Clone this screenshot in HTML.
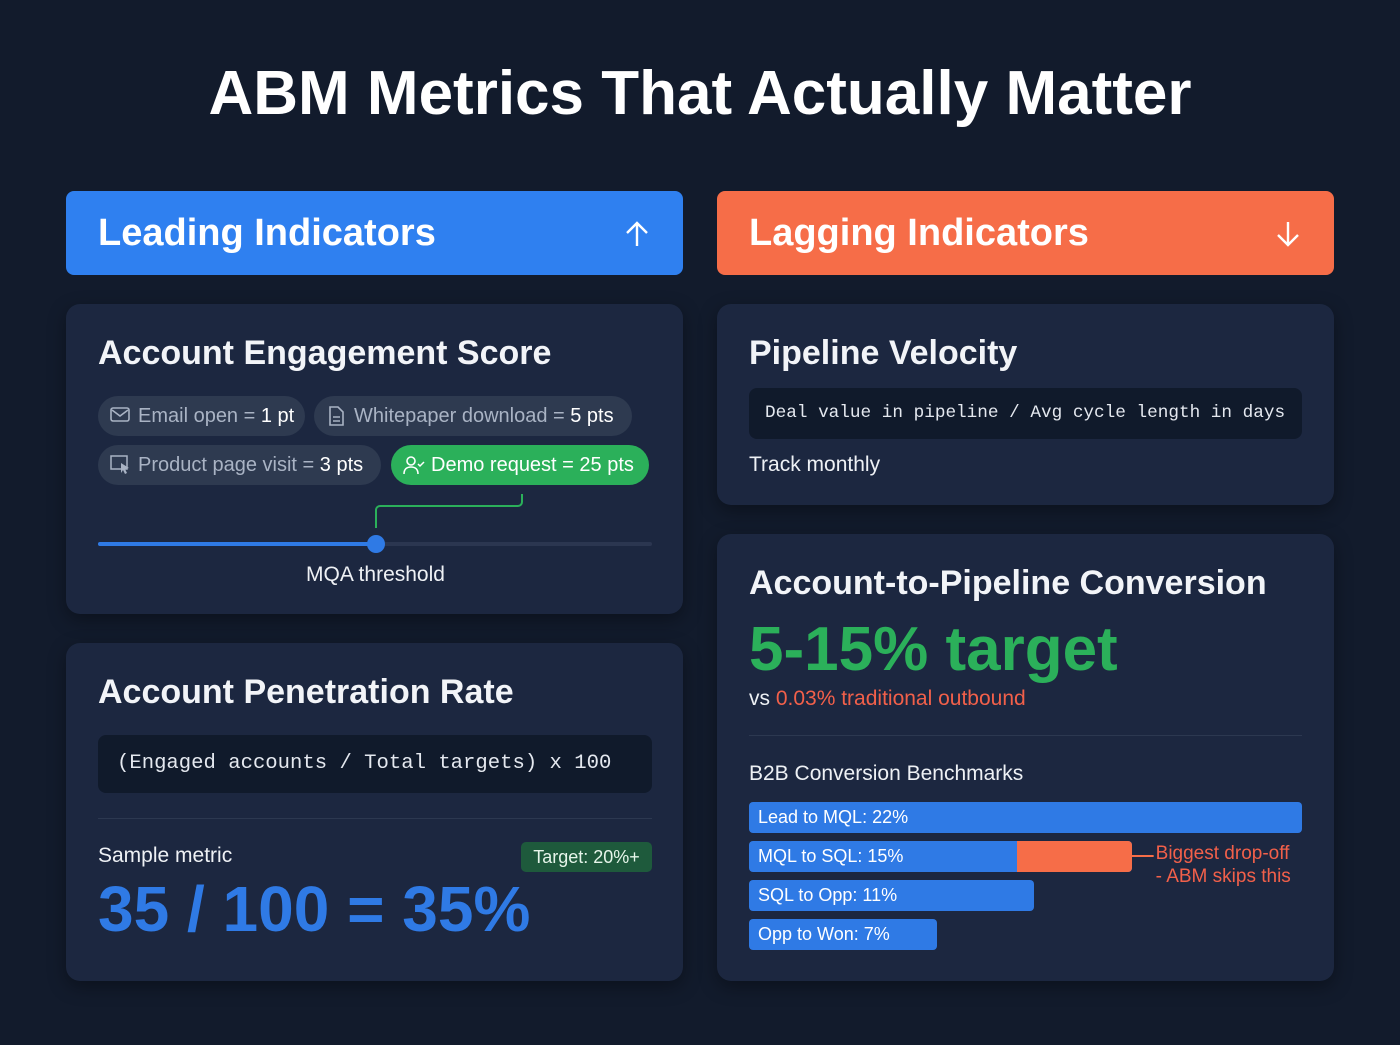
<!DOCTYPE html>
<html><head><meta charset="utf-8"><style>
*{box-sizing:border-box;margin:0;padding:0}
body{width:1400px;height:1045px;background:#121b2c;font-family:"Liberation Sans",sans-serif;color:#fff;position:relative;overflow:hidden}
.abs{position:absolute}
.hdr{position:absolute;top:191px;height:84px;width:617px;border-radius:8px;font-weight:bold;font-size:38px;padding-left:32px;line-height:84px}
.card{position:absolute;background:#1c2740;border-radius:14px;box-shadow:0 6px 18px rgba(0,0,0,.35)}
.ct{position:absolute;left:32px;font-weight:bold;font-size:34px;color:#f2f4f8}
.chip{position:absolute;height:40px;border-radius:20px;background:#2e3a50;color:#a9b3c4;font-size:20px;line-height:40px;padding-left:40px}
.chip b{color:#fff;font-weight:normal}
.chip svg{position:absolute;left:12px;top:10px}
.code{position:absolute;background:#101a2b;border-radius:8px;font-family:"Liberation Mono",monospace;color:#e4e8ef}
.bar{position:absolute;height:31px;border-radius:4px;background:#2f7ae5;font-size:18px;line-height:31px;padding-left:9px;color:#fff;white-space:nowrap}
</style></head><body>
<div class="abs" style="left:0;width:1400px;top:58px;text-align:center;font-size:62px;font-weight:bold;color:#fff">ABM Metrics That Actually Matter</div>

<div class="hdr" style="left:66px;background:#2f80f0">Leading Indicators<svg style="position:absolute;right:34px;top:30px" width="24" height="26"><path d="M12 25V2M2 12L12 2l10 10" fill="none" stroke="#fff" stroke-width="2.4"/></svg></div>
<div class="hdr" style="left:717px;background:#f66d48">Lagging Indicators<svg style="position:absolute;right:34px;top:30px" width="24" height="26"><path d="M12 1v23M2 14l10 10 10-10" fill="none" stroke="#fff" stroke-width="2.4"/></svg></div>

<div class="card" style="left:66px;top:304px;width:617px;height:310px">
 <div class="ct" style="top:30px">Account Engagement Score</div>
 <div class="chip" style="left:32px;top:92px;width:207px"><svg width="20" height="18"><rect x="1" y="2" width="18" height="13" rx="2" fill="none" stroke="#a9b3c4" stroke-width="1.6"/><path d="M2 4l8 6 8-6" fill="none" stroke="#a9b3c4" stroke-width="1.6"/></svg>Email open = <b>1 pt</b></div>
 <div class="chip" style="left:248px;top:92px;width:318px"><svg width="20" height="20"><path d="M4 1h8l5 5v13H4z" fill="none" stroke="#a9b3c4" stroke-width="1.6"/><path d="M7 11h7M7 15h7" stroke="#a9b3c4" stroke-width="1.5"/></svg>Whitepaper download = <b>5 pts</b></div>
 <div class="chip" style="left:32px;top:141px;width:283px"><svg width="22" height="20"><rect x="1" y="1" width="16" height="13" fill="none" stroke="#a9b3c4" stroke-width="1.5"/><path d="M11 8l8 5-4 1 2 4-2 1-2-4-2 3z" fill="#a9b3c4"/></svg>Product page visit = <b>3 pts</b></div>
 <div class="chip" style="left:325px;top:141px;width:258px;background:#2bb05a;color:#fff"><svg width="22" height="20"><circle cx="8" cy="6" r="4" fill="none" stroke="#fff" stroke-width="1.6"/><path d="M1 19c0-5 3-7 7-7s7 2 7 7" fill="none" stroke="#fff" stroke-width="1.6"/><path d="M15 9l2 2 4-4" fill="none" stroke="#fff" stroke-width="1.5"/></svg>Demo request = 25 pts</div>
 <svg class="abs" style="left:0;top:0" width="617" height="310">
  <path d="M456 190v8a4 4 0 0 1-4 4H314a4 4 0 0 0-4 4v18" fill="none" stroke="#2bb05a" stroke-width="2"/>
  <rect x="32" y="238" width="554" height="4" rx="2" fill="#2b3650"/>
  <rect x="32" y="238" width="278" height="4" rx="2" fill="#2f7ae5"/>
  <circle cx="310" cy="240" r="9" fill="#2f7ae5"/>
 </svg>
 <div class="abs" style="left:0;width:618px;text-align:center;top:259px;font-size:21px;color:#eef1f5;padding-left:1px">MQA threshold</div>
</div>

<div class="card" style="left:66px;top:643px;width:617px;height:338px">
 <div class="ct" style="top:30px">Account Penetration Rate</div>
 <div class="code" style="left:32px;top:92px;width:554px;height:58px;font-size:20.6px;line-height:58px;padding-left:19px">(Engaged accounts / Total targets) x 100</div>
 <div class="abs" style="left:32px;top:175px;width:554px;height:1px;background:#2c3850"></div>
 <div class="abs" style="left:32px;top:201px;font-size:21px;color:#eef1f5">Sample metric</div>
 <div class="abs" style="left:455px;top:199px;width:131px;height:30px;border-radius:5px;background:#1e5a3c;color:#e6f5ea;font-size:18px;line-height:30px;text-align:center">Target: 20%+</div>
 <div class="abs" style="left:32px;top:229px;font-size:64px;font-weight:bold;color:#2f7ae5">35 / 100 = 35%</div>
</div>

<div class="card" style="left:717px;top:304px;width:617px;height:201px">
 <div class="ct" style="top:30px">Pipeline Velocity</div>
 <div class="code" style="left:32px;top:84px;width:553px;height:51px;font-size:17.7px;line-height:51px;padding-left:16px">Deal value in pipeline / Avg cycle length in days</div>
 <div class="abs" style="left:32px;top:149px;font-size:21px;color:#eef1f5">Track monthly</div>
</div>

<div class="card" style="left:717px;top:534px;width:617px;height:447px">
 <div class="ct" style="top:30px">Account-to-Pipeline Conversion</div>
 <div class="abs" style="left:32px;top:80px;font-size:62px;font-weight:bold;color:#2bb05a">5-15% target</div>
 <div class="abs" style="left:32px;top:153px;font-size:21px;color:#eef1f5">vs <span style="color:#f2604a">0.03% traditional outbound</span></div>
 <div class="abs" style="left:32px;top:201px;width:553px;height:1px;background:#2c3850"></div>
 <div class="abs" style="left:32px;top:228px;font-size:21px;color:#eef1f5">B2B Conversion Benchmarks</div>
 <div id="bars" class="abs" style="left:0;top:0"></div>
 <svg class="abs" style="left:0;top:0" width="617" height="447"><path id="conn" d="" stroke="#f66d48" stroke-width="2"/></svg>
 <div class="abs" id="note" style="top:308px;font-size:19px;line-height:23px;color:#f2604a">Biggest drop-off<br>- ABM skips this</div>
</div>

<script>
const stages=["Lead to MQL","MQL to SQL","SQL to Opp","Opp to Won"];
const rates=[22,15,11,7];
const dropIndex=1;
const x0=32,maxW=553,y0=268,step=39,minW=188,minV=7;
function xs(v){return minW+(v-minV)*(maxW-minW)/(rates[0]-minV);}
const host=document.getElementById('bars');
rates.forEach((v,i)=>{
 const b=document.createElement('div');
 b.className='bar';
 
 
 b.style.left=x0+'px';b.style.top=(y0+i*step)+'px';b.style.width=xs(v)+'px';
 b.textContent=stages[i]+': '+v+'%';
 if(i===dropIndex){
  const o=document.createElement('div');
  
  
  const nx=xs(rates[i+1])-17;
  o.style.cssText='position:absolute;top:0;height:31px;background:#f66d48;border-radius:0 4px 4px 0;left:'+nx+'px;width:'+(xs(v)-nx)+'px';
  b.appendChild(o);
  const end=x0+xs(v);
  document.getElementById('conn').setAttribute('d','M'+end+' '+(y0+i*step+15)+'h22');
  document.getElementById('note').style.left=(end+24)+'px';
 }
 host.appendChild(b);
});
</script>
</body></html>
